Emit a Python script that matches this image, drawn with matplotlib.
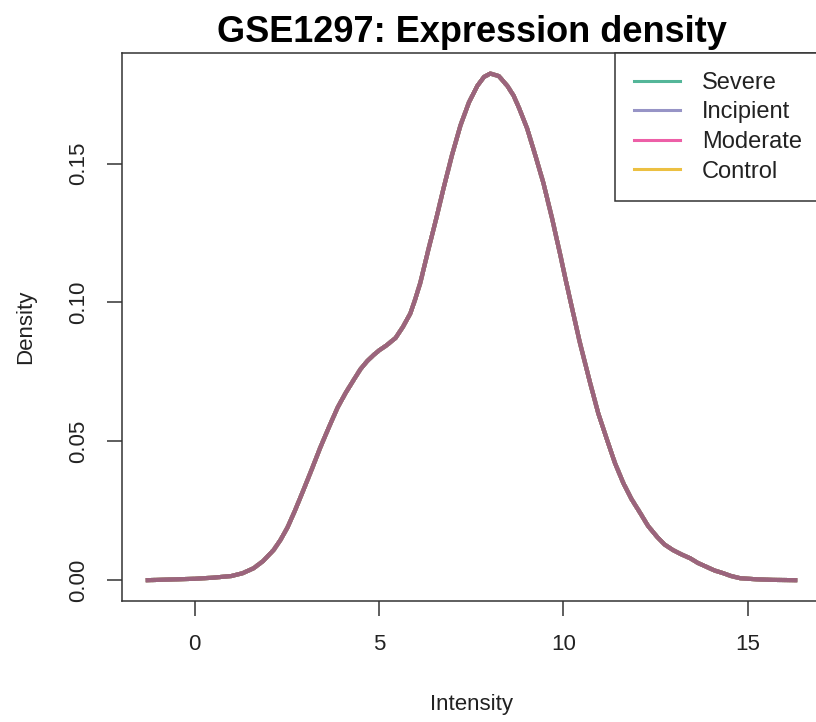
import numpy as np
import matplotlib
matplotlib.use("Agg")
import matplotlib.pyplot as plt
from matplotlib.lines import Line2D

plt.rcParams['font.family'] = ['Liberation Sans', 'DejaVu Sans']

# Expression density (log2 intensity) shared by all samples after normalisation
intensity = [-1.27, 0.0, 0.5, 1.0, 1.3, 1.6, 1.85, 2.14, 2.33, 2.52, 2.72,
             2.95, 3.18, 3.41, 3.65, 3.88, 4.1, 4.31, 4.5, 4.69, 4.85, 5.0,
             5.2, 5.45, 5.65, 5.85, 5.98, 6.12, 6.34, 6.55, 6.75, 6.98, 7.21,
             7.44, 7.67, 7.85, 8.02, 8.25, 8.48, 8.65, 8.8, 9.02, 9.24, 9.46,
             9.7, 9.92, 10.05, 10.19, 10.45, 10.73, 10.95, 11.19, 11.4, 11.63,
             11.85, 12.09, 12.3, 12.55, 12.75, 12.98, 13.2, 13.44, 13.65, 13.9,
             14.1, 14.34, 14.55, 14.8, 15.26, 15.7, 16.29]
density = [0.0, 0.0005, 0.0009, 0.0015, 0.0025, 0.0043, 0.0068, 0.0108,
           0.0145, 0.019, 0.025, 0.0324, 0.040, 0.0478, 0.0553, 0.0622,
           0.0675, 0.072, 0.0760, 0.079, 0.0810, 0.0827, 0.0845, 0.0872,
           0.0912, 0.096, 0.101, 0.107, 0.119, 0.130, 0.141, 0.153, 0.1637,
           0.172, 0.178, 0.1812, 0.1824, 0.1815, 0.178, 0.1745, 0.170, 0.1626,
           0.153, 0.143, 0.130, 0.117, 0.109, 0.1007, 0.0855, 0.0709, 0.060,
           0.0504, 0.0422, 0.0349, 0.0292, 0.0241, 0.0195, 0.0155, 0.0128,
           0.0108, 0.0093, 0.0079, 0.0062, 0.0047, 0.0035, 0.0025, 0.0015,
           0.0007, 0.0003, 0.0001, 0.0]

groups = ["Severe", "Incipient", "Moderate", "Control"]
group_colors = ["#1B9E77", "#7570B3", "#E7298A", "#E6AB02"]
samples_per_group = [7, 7, 8, 9]

fig = plt.figure(figsize=(8.16, 7.22), dpi=100)
ax = fig.add_axes([122 / 816, 1 - 601 / 722, (821 - 122) / 816, (601 - 53) / 722])

# one curve per sample: the first controls, then the groups in turn
remaining = list(samples_per_group)
order = [3] * 4
remaining[3] -= 4
while any(remaining):
    for g in range(len(groups)):
        if remaining[g] > 0:
            order.append(g)
            remaining[g] -= 1
for g in order:
    ax.plot(intensity, density, color=group_colors[g], lw=3.0, alpha=0.12,
            solid_joinstyle='round')

ax.set_xlim(-1.97, 16.99)
ax.set_ylim(-0.0075, 0.1898)
ax.set_xticks([0, 5, 10, 15])
ax.set_xticklabels(["0", "5", "10", "15"])
ax.set_yticks([0.0, 0.05, 0.10, 0.15])
ax.set_yticklabels(["0.00", "0.05", "0.10", "0.15"], rotation=90, va='center')

ax.tick_params(axis='both', length=11, width=1.1, color='#333333',
               labelsize=16, labelcolor='#222222', pad=13)
for s in ax.spines.values():
    s.set_linewidth(1.1)
    s.set_color('#333333')

ax.set_xlabel("Intensity", fontsize=16, color='#222222', labelpad=28)
ax.set_ylabel("Density", fontsize=16, color='#222222', labelpad=23)
ax.set_title("GSE1297: Expression density", fontsize=26, fontweight='bold',
             pad=8)

handles = [Line2D([], [], color=c, lw=2.2, alpha=0.75) for c in group_colors]
leg = ax.legend(handles, groups, loc='upper right', bbox_to_anchor=(1, 1),
                borderaxespad=0, fancybox=False, fontsize=17,
                handlelength=1.95, handletextpad=0.93, labelspacing=0.32,
                borderpad=0.8, framealpha=1)
leg.get_frame().set_edgecolor('#333333')
leg.get_frame().set_linewidth(1.1)
for t in leg.get_texts():
    t.set_color('#222222')

fig.savefig("out.png", dpi=100)
